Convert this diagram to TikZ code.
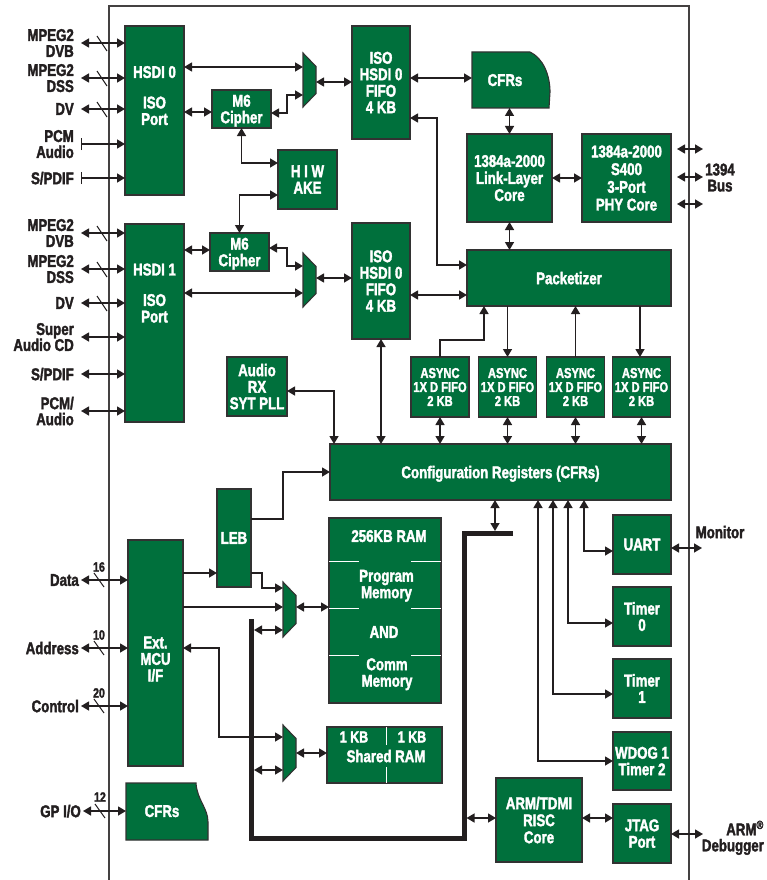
\documentclass[tikz,border=0pt]{standalone}
\usepackage{fontspec}
\setmainfont{Liberation Sans}[FakeStretch=0.78, BoldFont={Liberation Sans Bold}, BoldFeatures={FakeBold=2}]
\usetikzlibrary{arrows.meta,calc}
\definecolor{chipgreen}{RGB}{0,112,60}
\definecolor{ink}{RGB}{35,31,32}
\definecolor{edge}{RGB}{50,50,50}
\tikzset{
  blk/.style={draw=edge, fill=chipgreen, line width=1.1pt, inner sep=0pt, outer sep=0pt,
    text=white, font=\bfseries\fontsize{17}{16.5}\selectfont, align=center, text depth=0pt},
  blks/.style={blk, font=\bfseries\fontsize{14.3}{14}\selectfont},
  wt/.style={text=white, font=\bfseries\fontsize{17}{16.5}\selectfont, align=center, inner sep=0pt, text depth=0pt},
  bt/.style={text=ink, font=\bfseries\fontsize{17}{16}\selectfont, align=right, inner sep=0pt, text depth=0pt},
  num/.style={text=ink, font=\bfseries\fontsize{13.5}{13}\selectfont, inner sep=0pt},
  con/.style={draw=ink, line width=1.4pt},
  >={Triangle[length=8pt,width=9pt]},
  slash/.style={draw=ink, line width=1pt},
  divline/.style={draw=white, line width=1pt},
  bus/.style={draw=ink, line width=5pt, line join=miter},
  muxbox/.style={inner sep=0pt, outer sep=0pt, minimum width=13pt},
  muxfill/.style={draw=edge, fill=chipgreen, line width=1.1pt},
  ghost/.style={inner sep=0pt, outer sep=0pt},
}
\begin{document}
\begin{tikzpicture}[x=1pt,y=-1pt]
\useasboundingbox (0,0) rectangle (766,880);
% chip border
\draw[line width=1.3pt, draw=ink!85] (109,880) -- (109,6) -- (689,6) -- (689,880);

% ---------- blocks ----------
\node[blk, minimum width=59pt, minimum height=169pt] (hsdi0) at (154.5,110.5) {};
\node[wt] at (154.5,95.5) {HSDI 0\\[14pt]ISO\\Port};
\node[blk, minimum width=59pt, minimum height=198pt] (hsdi1) at (154.5,323) {};
\node[wt] at (154.5,293) {HSDI 1\\[14pt]ISO\\Port};

\node[blk, minimum width=59pt, minimum height=38pt] (cip0) at (241.5,109) {M6\\Cipher};
\node[blk, minimum width=59pt, minimum height=38pt] (cip1) at (239.5,252) {M6\\Cipher};
\node[blk, minimum width=59pt, minimum height=59pt] (hiwake) at (307.5,179.5) {H I W\\AKE};

\node[blk, minimum width=58pt, minimum height=113pt] (fifo0) at (381,82.5) {ISO\\HSDI 0\\FIFO\\4 KB};
\node[blk, minimum width=58pt, minimum height=116pt] (fifo1) at (381,281) {ISO\\HSDI 0\\FIFO\\4 KB};

% CFRs (top)
\node[ghost, minimum width=78pt, minimum height=56pt] (cfr0) at (511,80) {};
\draw[muxfill] (472,52) -- (530,52) .. controls (543,58) and (550,75) .. (550,92) -- (549,108) -- (472,108) -- cycle;
\node[wt] at (505,80) {CFRs};

\node[blk, minimum width=85pt, minimum height=88pt, font=\bfseries\fontsize{17}{17}\selectfont] (link) at (509.5,178) {1384a-2000\\Link-Layer\\Core};
\node[blk, minimum width=89pt, minimum height=88pt, font=\bfseries\fontsize{17}{17.7}\selectfont] (phy) at (626.5,178) {1384a-2000\\S400\\3-Port\\PHY Core};
\node[blk, minimum width=204pt, minimum height=56pt] (pack) at (569,278) {Packetizer};

\foreach \n/\x in {a1/440,a2/507.5,a3/575.5,a4/641.5}{
  \node[blks, minimum width=58pt, minimum height=60pt] (\n) at (\x,387) {ASYNC\\1X D FIFO\\2 KB};
}
\node[blk, minimum width=60pt, minimum height=59pt] (audio) at (257,386.5) {Audio\\RX\\SYT PLL};
\node[blk, minimum width=341pt, minimum height=56pt] (config) at (500.5,472) {Configuration Registers (CFRs)};

\node[blk, minimum width=34pt, minimum height=98pt] (leb) at (234,538) {LEB};
\node[blk, minimum width=55pt, minimum height=226pt] (mcu) at (155.5,653) {};
\node[wt] at (155.5,659) {Ext.\\MCU\\I/F};

% 256KB RAM
\node[blk, minimum width=112pt, minimum height=185pt] (ram) at (385,610.5) {};
\foreach \yy in {561,608,655}{
  \draw[divline] (ram.west |- 0,\yy) -- ++(30,0);
  \draw[divline] (ram.east |- 0,\yy) -- ++(-30,0);
}
\node[wt] at (389,536) {256KB RAM};
\node[wt] at (386.5,584) {Program\\Memory};
\node[wt] at (384,632) {AND};
\node[wt] at (387,672.5) {Comm\\Memory};

% Shared RAM
\node[blk, minimum width=115pt, minimum height=56pt] (shram) at (384.5,755) {};
\draw[divline] (shram.north -| 386,0) -- ++(0,18);
\draw[divline] (shram.south -| 386,0) -- ++(0,-16);
\node[wt, font=\bfseries\fontsize{16}{15}\selectfont] at (354,737) {1 KB};
\node[wt, font=\bfseries\fontsize{16}{15}\selectfont] at (412,737) {1 KB};
\node[wt] at (386,756) {Shared RAM};

\node[blk, minimum width=58pt, minimum height=59pt] (uart) at (642,544.5) {UART};
\node[blk, minimum width=58pt, minimum height=59pt] (t0) at (642,616.5) {Timer\\0};
\node[blk, minimum width=58pt, minimum height=59pt] (t1) at (642,688.5) {Timer\\1};
\node[blk, minimum width=58pt, minimum height=58pt] (wdog) at (642,761) {WDOG 1\\Timer 2};
\node[blk, minimum width=86pt, minimum height=84pt, font=\bfseries\fontsize{17}{17}\selectfont] (arm) at (539,820) {ARM/TDMI\\RISC\\Core};
\node[blk, minimum width=58pt, minimum height=59pt] (jtag) at (642,833.5) {JTAG\\Port};

% CFRs (bottom)
\node[ghost, minimum width=82pt, minimum height=57pt] (cfr1) at (167,811.5) {};
\draw[muxfill] (126,783) -- (196,783) .. controls (197,800) and (208,808) .. (208,822) -- (208,840) -- (126,840) -- cycle;
\node[wt] at (162,811) {CFRs};

% multiplexers
\node[muxbox, minimum height=54pt] (mux0) at (309.5,80) {};
\node[muxbox, minimum height=54pt] (mux1) at (309.5,280) {};
\node[muxbox, minimum height=55pt] (mux2) at (289.5,609.5) {};
\node[muxbox, minimum height=56pt] (mux3) at (289.5,753) {};
\foreach \m in {mux0,mux1,mux2,mux3}{
  \draw[muxfill] (\m.north west) -- ([yshift=-13.5pt]\m.north east) -- ([yshift=13.5pt]\m.south east) -- (\m.south west) -- cycle;
}

% system bus
\coordinate (b1) at (513,533);
\coordinate (b2) at (464,533);
\coordinate (b3) at (464,838);
\coordinate (b4) at (251,838);
\coordinate (b5) at (251,619);
\draw[bus] (b1) -- (b2) -- (b3) -- (b4) -- (b5);

% ---------- connectors ----------
\draw[con,<->] (hsdi0.east |- 0,67) -- (mux0.west |- 0,67);
\draw[con,<->] (hsdi0.east |- 0,112) -- (cip0.west |- 0,112);
\draw[con,<->] (cip0.east |- 0,113) -- (287,113) |- (mux0.west |- 0,95);
\draw[con,<->] (mux0.east |- 0,82) -- (fifo0.west |- 0,82);
\draw[con,<->] (cip0.south) |- (hiwake.west |- 0,163);
\draw[con,<->] (hiwake.west |- 0,195) -| (cip1.north);
\draw[con,<->] (fifo0.east |- 0,78) -- (cfr0.west |- 0,78);
\draw[con,<->] (fifo0.east |- 0,118) -- (437,118) |- (pack.west |- 0,265);
\draw[con,<->] (link.north |- cfr0.south) -- (link.north);
\draw[con,<->] (link.east) -- (phy.west);
\draw[con,<->] (link.south) -- (link.south |- pack.north);
\foreach \yy in {149,177,204}{
  \coordinate (bus) at (677,\yy);
  \draw[con,<->] (bus) -- ++(26,0);
}
\draw[con,<->] (hsdi1.east |- 0,250) -- (cip1.west |- 0,250);
\draw[con,<->] (cip1.east |- 0,248) -- (287,248) |- (mux1.west |- 0,266);
\draw[con,<->] (hsdi1.east |- 0,293) -- (mux1.west |- 0,293);
\draw[con,<->] (mux1.east |- 0,278) -- (fifo1.west |- 0,278);
\draw[con,<->] (fifo1.east |- 0,295) -- (pack.west |- 0,295);
\draw[con,<->] (fifo1.south) -- (fifo1.south |- config.north);
\draw[con,<->] (audio.east |- 0,391) -| ([xshift=4pt]config.north west);
\foreach \n in {a1,a2,a3,a4}{
  \draw[con,<->] (\n.south) -- (\n.south |- config.north);
}
\draw[con,->] (a1.north) |- (484,340) -- (pack.south -| 484,0);
\draw[con,->] (pack.south -| a2.north) -- (a2.north);
\draw[con,->] (a3.north) -- (a3.north |- pack.south);
\draw[con,->] (pack.south -| 640,0) -- (a4.north -| 640,0);

\draw[con,->] (leb.east |- 0,519) -- (283,519) |- (config.west);
\draw[con,->] (mcu.east |- 0,573) -- (leb.west |- 0,573);
\draw[con,->] (leb.east |- 0,573) -- (262,573) |- (mux2.west |- 0,588);
\draw[con,->] (mcu.east |- 0,607) -- (mux2.west |- 0,607);
\draw[con,<->] (mux2.east |- 0,607) -- (ram.west |- 0,607);
\coordinate (tap1) at (254,630);
\draw[con,<->] (tap1) -- (mux2.west |- tap1);
\coordinate (tap2) at (254,770);
\draw[con,<->] (tap2) -- (mux3.west |- tap2);
\draw[con,<->] (mcu.east |- 0,648) -- (219,648) |- (mux3.west |- 0,737);
\draw[con,<->] (mux3.east |- 0,753) -- (shram.west |- 0,753);
\coordinate (tap3) at (495,531);
\draw[con,<->] (config.south -| tap3) -- (tap3);
\coordinate (tap4) at (466.5,818);
\draw[con,<->] (tap4) -- (arm.west |- tap4);
\draw[con,<->] (arm.east |- 0,818) -- (jtag.west |- 0,818);
\coordinate (dbg) at (703,834);
\draw[con,<->] (jtag.east |- dbg) -- (dbg);
\coordinate (mon) at (702,548);
\draw[con,<->] (uart.east |- mon) -- (mon);
\draw[con,<->] (config.south -| 584,0) |- (uart.west |- 0,551);
\draw[con,<->] (config.south -| 568,0) |- (t0.west |- 0,623);
\draw[con,<->] (config.south -| 553,0) |- (t1.west |- 0,694);
\draw[con,<->] (config.south -| 538,0) |- (wdog.west |- 0,761);

% ---------- external inputs ----------
\foreach \yy in {43,78,109}{
  \coordinate (in) at (81,\yy);
  \draw[con,<->] (in) -- (hsdi0.west |- in);
  \draw[slash] ([shift={(16,-7)}]in) -- ([shift={(26,8)}]in);
}
\foreach \yy in {144,178}{
  \coordinate (in) at (81,\yy);
  \draw[con,{Bar[width=12pt]}->] (in) -- (hsdi0.west |- in);
}
\foreach \yy in {233,269,303}{
  \coordinate (in) at (81,\yy);
  \draw[con,<->] (in) -- (hsdi1.west |- in);
  \draw[slash] ([shift={(16,-7)}]in) -- ([shift={(26,8)}]in);
}
\foreach \yy in {337,374,411}{
  \coordinate (in) at (81,\yy);
  \draw[con,<->] (in) -- (hsdi1.west |- in);
}
\foreach \yy/\nn in {580/16,648/10,706/20}{
  \coordinate (in) at (81,\yy);
  \draw[con,<->] (in) -- (mcu.west |- in);
  \draw[slash] ([shift={(13,-7)}]in) -- ([shift={(23,7)}]in);
  \node[num] at ([shift={(18,-13)}]in) {\nn};
}
\coordinate (gpio) at (83,811);
\draw[con,<->] (gpio) -- (cfr1.west |- gpio);
\draw[slash] ([shift={(12,-7)}]gpio) -- ([shift={(22,7)}]gpio);
\node[num] at ([shift={(17,-14)}]gpio) {12};

% ---------- external labels ----------
\node[bt, anchor=east] at (74,43) {MPEG2\\DVB};
\node[bt, anchor=east] at (74,78) {MPEG2\\DSS};
\node[bt, anchor=east] at (74,109) {DV};
\node[bt, anchor=east] at (74,144) {PCM\\Audio};
\node[bt, anchor=east] at (74,178) {S/PDIF};
\node[bt, anchor=east] at (74,233) {MPEG2\\DVB};
\node[bt, anchor=east] at (74,269) {MPEG2\\DSS};
\node[bt, anchor=east] at (74,303) {DV};
\node[bt, anchor=east] at (74,337) {Super\\Audio CD};
\node[bt, anchor=east] at (74,374) {S/PDIF};
\node[bt, anchor=east] at (74,411) {PCM/\\Audio};
\node[bt, anchor=east] at (79,580) {Data};
\node[bt, anchor=east] at (79,648) {Address};
\node[bt, anchor=east] at (79,706) {Control};
\node[bt, anchor=east] at (81,811) {GP I/O};
\node[bt, align=center] at (720,177.5) {1394\\Bus};
\node[bt, align=center] at (720,532) {Monitor};
\node[bt, anchor=east] at (764,836) {ARM\textsuperscript{\textregistered}\\Debugger};
\end{tikzpicture}
\end{document}
